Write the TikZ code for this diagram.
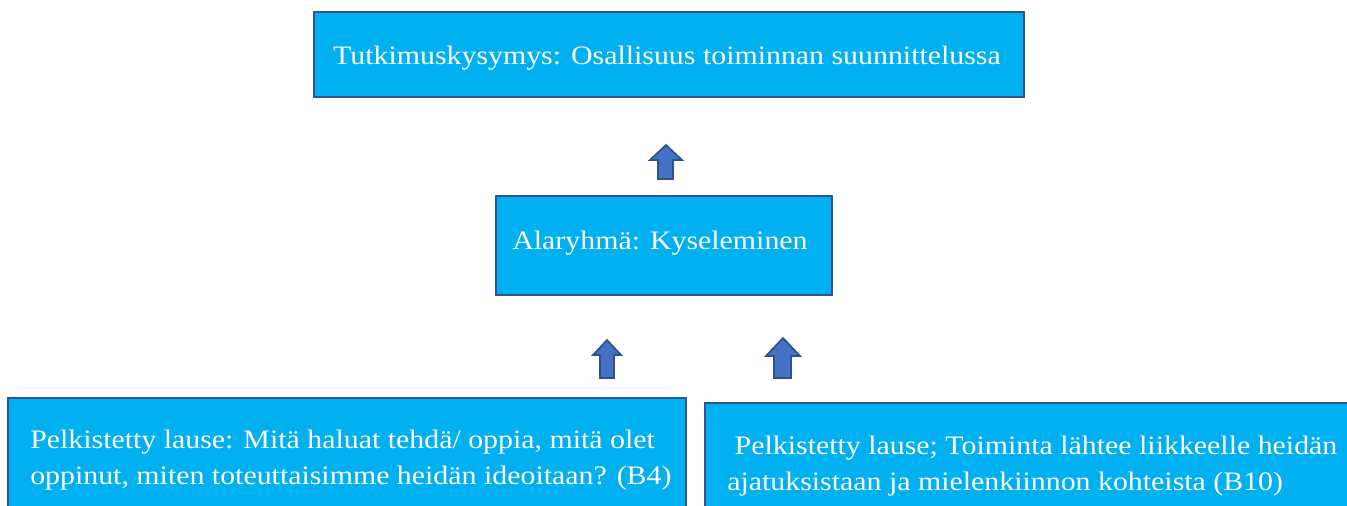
\documentclass[tikz,border=0pt]{standalone}
\usepackage{fontspec}
\setmainfont{Liberation Serif}[FakeStretch=1.12]
\definecolor{boxfill}{HTML}{00B0F0}
\definecolor{boxline}{HTML}{2F5597}
\definecolor{arrfill}{HTML}{4472C4}
\definecolor{arrline}{HTML}{2F528F}
\tikzset{
  box/.style={draw=boxline, line width=1.8pt, fill=boxfill, inner sep=0pt},
  label/.style={text=white, inner sep=0pt, font=\fontsize{20}{27.5}\selectfont},
  leftlabel/.style={label, align=left, anchor=west},
  upblock/.style={draw=arrline, line width=1.3pt, fill=arrfill, line join=miter}
}
\begin{document}
\begin{tikzpicture}[x=0.75pt, y=-0.75pt]
  \useasboundingbox (0,0) rectangle (1347,506);
  \clip (0,0) rectangle (1347,506);
  % top: research question
  \node[box, minimum width=532.5pt, minimum height=63.75pt] (question) at (669,54.5) {};
  \node[label] (questiontext) at (667,58)
    {Tutkimuskysymys: Osallisuus toiminnan suunnittelussa};
  % middle: subgroup
  \node[box, minimum width=252pt, minimum height=74.25pt] (subgroup) at (664,245.5) {};
  \node[label] (subgrouptext) at (660,243)
    {Alaryhmä: Kyseleminen};
  % bottom: reduced expressions
  \node[box, minimum width=508.5pt, minimum height=93pt] (expA) at (347,460) {};
  \node[leftlabel] (expAtext) at (30,460)
    {Pelkistetty lause: Mitä haluat tehdä/ oppia, mitä olet\\
     oppinut, miten toteuttaisimme heidän ideoitaan? (B4)};
  \node[box, minimum width=491.25pt, minimum height=93pt] (expB) at (1032.5,465) {};
  \node[leftlabel] (expBtext) at (727,466)
    {\ Pelkistetty lause; Toiminta lähtee liikkeelle heidän\\
     ajatuksistaan ja mielenkiinnon kohteista (B10)};
  % block arrows pointing upwards
  \draw[upblock] (666,145) -- (682,160) -- (673,160) -- (673,179) -- (658,179) -- (658,160) -- (650,160) -- cycle;
  \draw[upblock] (607,340) -- (621,355) -- (614,355) -- (614,378) -- (600,378) -- (600,355) -- (593,355) -- cycle;
  \draw[upblock] (783,338) -- (800,356) -- (791,356) -- (791,378) -- (774,378) -- (774,356) -- (766,356) -- cycle;
\end{tikzpicture}
\end{document}
